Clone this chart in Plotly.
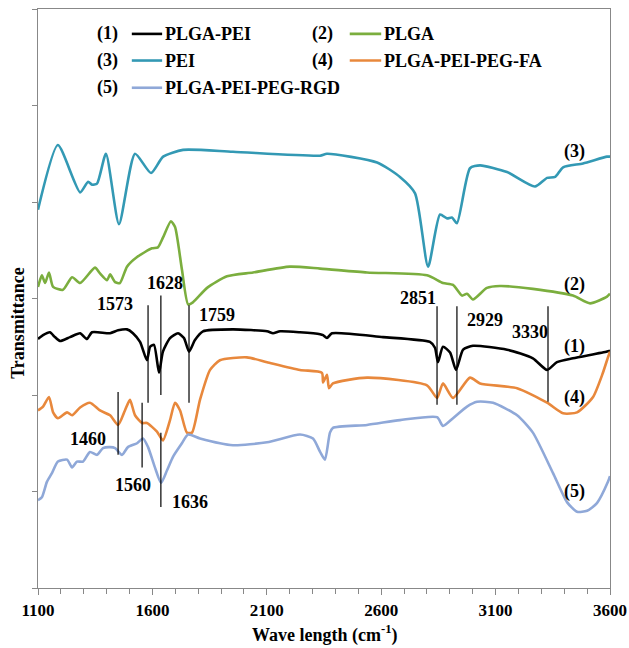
import plotly.graph_objects as go

# ---------------- data ----------------
pei_x = [1100, 1187, 1284, 1319, 1336, 1358, 1397, 1454, 1524, 1594, 1647, 1734, 1952,
         2333, 2363, 2582, 2682, 2748, 2805, 2857, 2888, 2909, 2931, 2988, 3032, 3150,
         3272, 3325, 3360, 3395, 3482, 3587, 3600]
pei_y = [3.92, 4.59, 4.10, 4.21, 4.18, 4.19, 4.50, 3.77, 4.50, 4.30, 4.47, 4.54, 4.52,
         4.48, 4.50, 4.41, 4.26, 4.09, 3.33, 3.87, 3.83, 3.84, 3.78, 4.35, 4.38, 4.31,
         4.16, 4.25, 4.26, 4.36, 4.40, 4.47, 4.47]

plga_x = [1100, 1117, 1131, 1148, 1166, 1209, 1249, 1284, 1349, 1371, 1402, 1415, 1437,
          1458, 1489, 1533, 1598, 1624, 1646, 1681, 1699, 1729, 1756, 1777, 1839, 1926,
          2040, 2201, 2333, 2538, 2800, 2870, 2914, 2953, 2975, 3001, 3062, 3119, 3263,
          3438, 3513, 3587, 3600]
plga_y = [3.12, 3.24, 3.16, 3.27, 3.12, 3.09, 3.22, 3.16, 3.32, 3.26, 3.19, 3.25, 3.17,
          3.16, 3.33, 3.43, 3.52, 3.53, 3.63, 3.80, 3.74, 3.30, 2.94, 2.96, 3.11, 3.23,
          3.27, 3.33, 3.31, 3.27, 3.24, 3.16, 3.14, 3.03, 3.05, 2.99, 3.11, 3.13, 3.10,
          3.03, 2.95, 3.02, 3.05]

plga_pei_x = [1100, 1122, 1152, 1174, 1196, 1240, 1284, 1314, 1336, 1415, 1450, 1489, 1515,
              1546, 1576, 1590, 1607, 1629, 1646, 1677, 1712, 1738, 1760, 1786, 1821, 1952,
              2101, 2127, 2158, 2245, 2333, 2346, 2363, 2385, 2608, 2813, 2835, 2848, 2870,
              2901, 2927, 2958, 3001, 3150, 3263, 3325, 3368, 3438, 3587, 3600]
plga_pei_y = [2.58, 2.62, 2.65, 2.60, 2.56, 2.60, 2.64, 2.58, 2.65, 2.64, 2.67, 2.68, 2.64,
              2.55, 2.36, 2.50, 2.52, 2.23, 2.45, 2.59, 2.64, 2.59, 2.45, 2.57, 2.66, 2.68,
              2.66, 2.64, 2.66, 2.65, 2.63, 2.62, 2.59, 2.64, 2.60, 2.55, 2.49, 2.34, 2.50,
              2.44, 2.26, 2.47, 2.51, 2.47, 2.38, 2.26, 2.34, 2.38, 2.45, 2.46]

fa_x = [1100, 1122, 1148, 1166, 1187, 1227, 1249, 1284, 1327, 1371, 1415, 1450, 1480,
        1502, 1524, 1555, 1576, 1620, 1646, 1677, 1699, 1721, 1751, 1773, 1808, 1852,
        1895, 2013, 2101, 2245, 2341, 2346, 2363, 2372, 2389, 2538, 2800, 2844, 2870,
        2914, 2988, 3032, 3194, 3325, 3395, 3456, 3526, 3569, 3591, 3600]
fa_y = [1.84, 1.88, 1.98, 1.82, 1.76, 1.82, 1.79, 1.87, 1.92, 1.84, 1.79, 1.69, 1.84,
        1.95, 1.79, 1.71, 1.71, 1.62, 1.53, 1.74, 1.92, 1.84, 1.61, 1.61, 1.95, 2.26,
        2.36, 2.39, 2.34, 2.26, 2.23, 2.13, 2.21, 2.07, 2.12, 2.18, 2.10, 1.97, 2.12,
        1.97, 2.18, 2.12, 2.07, 1.92, 1.81, 1.82, 1.98, 2.23, 2.39, 2.45]

rgd_x = [1100, 1117, 1139, 1161, 1187, 1227, 1249, 1270, 1297, 1327, 1358, 1384, 1415,
         1437, 1467, 1493, 1533, 1559, 1581, 1611, 1638, 1664, 1690, 1729, 1756, 1808,
         1952, 2101, 2245, 2302, 2333, 2354, 2376, 2389, 2538, 2682, 2844, 2870, 2914,
         2975, 3019, 3089, 3194, 3263, 3351, 3412, 3456, 3500, 3543, 3591, 3600]
rgd_y = [0.91, 0.94, 1.10, 1.19, 1.31, 1.33, 1.25, 1.31, 1.31, 1.41, 1.38, 1.45, 1.46,
         1.45, 1.38, 1.46, 1.50, 1.55, 1.46, 1.25, 1.09, 1.22, 1.36, 1.50, 1.59, 1.55,
         1.48, 1.51, 1.59, 1.55, 1.41, 1.33, 1.61, 1.66, 1.69, 1.74, 1.77, 1.68, 1.76,
         1.88, 1.93, 1.92, 1.79, 1.61, 1.19, 0.89, 0.79, 0.80, 0.88, 1.10, 1.16]

series_names = ["PLGA-PEI", "PLGA", "PEI", "PLGA-PEI-PEG-FA", "PLGA-PEI-PEG-RGD"]
series_tags = ["(1)", "(2)", "(3)", "(4)", "(5)"]
series_x = [plga_pei_x, plga_x, pei_x, fa_x, rgd_x]
series_y = [plga_pei_y, plga_y, pei_y, fa_y, rgd_y]
series_colors = ["#000000", "#7BAE3E", "#3399B4", "#E8883C", "#8FA8D8"]
# curve tag positions (x, y in data units)
tag_x = [3447, 3447, 3447, 3447, 3447]
tag_y = [2.50, 3.14, 4.52, 1.97, 1.00]

# peak marker lines: label, position, top, bottom, label x, label y
peak_labels = ["1573", "1628", "1759", "1460", "1560", "1636", "2851", "2929", "3330"]
peak_pos = [1581, 1637, 1760, 1450, 1555, 1637, 2844, 2931, 3329]
peak_top = [2.93, 3.03, 2.93, 2.03, 1.92, 1.61, 2.92, 2.92, 2.92]
peak_bot = [1.92, 2.00, 1.92, 1.38, 1.25, 0.84, 1.90, 1.90, 1.93]
peak_lab_x = [1437, 1655, 1882, 1319, 1515, 1764, 2761, 3054, 3250]
peak_lab_y = [2.94, 3.16, 2.83, 1.54, 1.07, 0.89, 3.01, 2.78, 2.65]

x_ticks = [1100, 1600, 2100, 2600, 3100, 3600]

FONT = "Liberation Serif, Times New Roman, serif"
FS = 18

fig = go.Figure()
for nm, xs, ys, c in zip(series_names, series_x, series_y, series_colors):
    fig.add_trace(go.Scatter(x=xs, y=ys, mode="lines", name=nm,
                             line=dict(color=c, width=2.6, shape="spline", smoothing=0.6),
                             showlegend=False))

for p, t, b in zip(peak_pos, peak_top, peak_bot):
    fig.add_trace(go.Scatter(x=[p, p], y=[t, b], mode="lines",
                             line=dict(color="#000000", width=1.2), showlegend=False,
                             hoverinfo="skip"))

ann = []
for lab, lx, ly in zip(peak_labels, peak_lab_x, peak_lab_y):
    ann.append(dict(x=lx, y=ly, xref="x", yref="y", text=lab, showarrow=False,
                    xanchor="center", yanchor="middle",
                    font=dict(family=FONT, size=FS, color="#000", weight="bold")))
for tg, tx, ty in zip(series_tags, tag_x, tag_y):
    ann.append(dict(x=tx, y=ty, xref="x", yref="y", text=tg, showarrow=False,
                    xanchor="center", yanchor="middle",
                    font=dict(family=FONT, size=FS, color="#000", weight="bold")))

# custom legend
shapes = []
leg_rows = [0.957, 0.911, 0.864]
leg_cols = [(0.122, 0.164, 0.217, 0.219), (0.497, 0.545, 0.600, 0.602)]
for i, (nm, tg, c) in enumerate(zip(series_names, series_tags, series_colors)):
    r = leg_rows[i // 2]
    tx, l0, l1, lx = leg_cols[i % 2]
    ann.append(dict(x=tx, y=r, xref="paper", yref="paper", text=tg, showarrow=False,
                    xanchor="center", yanchor="middle",
                    font=dict(family=FONT, size=FS, color="#000", weight="bold")))
    ann.append(dict(x=lx, y=r, xref="paper", yref="paper", text=nm, showarrow=False,
                    xanchor="left", yanchor="middle",
                    font=dict(family=FONT, size=FS, color="#000", weight="bold")))
    shapes.append(dict(type="line", xref="paper", yref="paper", x0=l0, x1=l1, y0=r, y1=r,
                       line=dict(color=c, width=2.6)))

ann.append(dict(x=-0.035, y=0.458, xref="paper", yref="paper", text="Transmittance",
                textangle=-90, showarrow=False, xanchor="center", yanchor="middle",
                font=dict(family=FONT, size=FS, color="#000", weight="bold")))
ann.append(dict(x=0.5, y=-0.0795, xref="paper", yref="paper",
                text="Wave length (cm<sup>-1</sup>)", showarrow=False,
                xanchor="center", yanchor="middle",
                font=dict(family=FONT, size=FS, color="#000", weight="bold")))

fig.update_layout(
    width=629, height=648,
    margin=dict(l=38, r=19, t=9, b=60, autoexpand=False),
    plot_bgcolor="white", paper_bgcolor="white",
    annotations=ann, shapes=shapes,
    xaxis=dict(range=[1100, 3600], tickvals=x_ticks, ticks="outside", ticklen=6,
               tickcolor="#888", showline=True, linecolor="#888", linewidth=1.3,
               mirror=True, showgrid=False, zeroline=False, automargin=False,
               minor=dict(dtick=100, ticks="outside", ticklen=5, tickcolor="#888"),
               tickfont=dict(family=FONT, size=17, color="#000", weight="bold")),
    yaxis=dict(range=[0, 6], dtick=1, ticks="outside", ticklen=5, tickcolor="#888",
               showticklabels=False, showline=True, linecolor="#888", linewidth=1.3,
               mirror=True, showgrid=False, zeroline=False, automargin=False),
)

# remove the browser's default page margin so the figure fills the window exactly
fig.write_html("out.html",
               config={"displayModeBar": False},
               post_script="document.body.style.margin='0';"
                           "document.body.style.overflow='hidden';")
